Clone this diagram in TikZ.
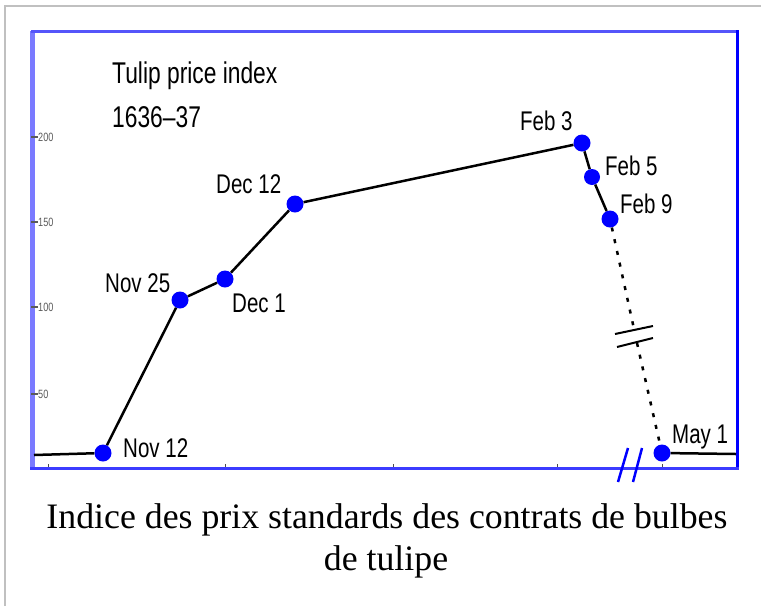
\documentclass[tikz,border=0pt]{standalone}
\usepackage{fontspec}
\setmainfont{Liberation Serif}
\newfontfamily\lab[FakeStretch=0.76]{Liberation Sans}
\definecolor{dotblue}{RGB}{0,0,255}
\definecolor{axleft}{RGB}{122,122,255}
\definecolor{axtop}{RGB}{85,85,250}
\definecolor{axbot}{RGB}{60,60,255}
\definecolor{framegray}{RGB}{192,192,192}
\definecolor{tickgray}{RGB}{90,90,90}
\begin{document}
\begin{tikzpicture}[x=1pt,y=-1pt,
  datapt/.style={circle,fill=dotblue,inner sep=0pt,minimum size=17pt},
  lbl/.style={inner sep=0pt,anchor=base west,font=\lab\fontsize{27}{30}\selectfont},
  ttl/.style={inner sep=0pt,anchor=base west,font=\lab\fontsize{30}{34}\selectfont},
  ytl/.style={inner sep=0pt,anchor=west,text=tickgray,font=\lab\fontsize{12}{13}\selectfont},
  curve/.style={draw=black,line width=2.5pt},
  dotcurve/.style={draw=black,line width=2.5pt,dash pattern=on 4pt off 8pt},
  brk/.style={draw=black,line width=2pt},
  axbrk/.style={draw=dotblue,line width=2.5pt},
  captext/.style={inner sep=0pt,anchor=base,font=\fontsize{35.8}{42}\selectfont}]
\useasboundingbox (0,0) rectangle (761,606);
% outer gray frame
\draw[framegray,line width=2.5pt] (5,606) -- (5,6) -- (761,6);
% axes frame
\draw[axleft,line width=5pt] (32.5,31) -- (32.5,470);
\draw[axtop,line width=3pt] (31,31.5) -- (738,31.5);
\draw[dotblue,line width=3pt] (737.5,30) -- (737.5,470);
\draw[axbot,line width=3.5pt] (30,468.5) -- (739,468.5);
% y ticks
\foreach \yy/\tl in {137/200,222/150,307/100,394/50}{
  \draw[tickgray,line width=1.2pt] (31,\yy) -- (38,\yy);
  \node[ytl] (yt\tl) at (38,\yy) {\tl};
}
% x ticks
\foreach \xx in {48,225,393,557,662}{
  \draw[black!70,line width=1pt] (\xx,466.5) -- (\xx,463.5);
}
% axis break
\draw[axbrk] (628,448) -- (618,482);
\draw[axbrk] (642,448) -- (633,482);
% data points
\node[datapt] (n12) at (103,453) {};
\node[datapt] (n25) at (180,300) {};
\node[datapt] (d1)  at (225,279) {};
\node[datapt] (d12) at (295,204) {};
\node[datapt] (f3)  at (582,143) {};
\node[datapt,minimum size=16pt] (f5)  at (592,177) {};
\node[datapt] (f9)  at (610,219) {};
\node[datapt] (m1)  at (662,453) {};
\coordinate (lstart) at (34,455);
\coordinate (rend) at (736,454);
\coordinate (b1) at (634,329);
\coordinate (b2) at (637,343);
% curves
\draw[curve] (lstart) -- (n12);
\draw[curve] (n12) -- (n25);
\draw[curve] (n25) -- (d1);
\draw[curve] (d1) -- (d12);
\draw[curve] (d12) -- (f3);
\draw[curve] (f3) -- (f5);
\draw[curve] (f5) -- (f9);
\draw[dotcurve] (f9) -- (b1);
\draw[dotcurve] (b2) -- (m1);
\draw[curve] (m1) -- (rend);
% break marks on dotted line
\draw[brk] (615,334) -- (653,326);
\draw[brk] (617,347) -- (653,338);
% labels
\node[ttl] (t1) at (112,83) {Tulip price index};
\node[ttl] (t2) at (112,127) {1636–37};
\node[lbl] (ln12) at (123,457) {Nov 12};
\node[lbl] (ln25) at (105,292) {Nov 25};
\node[lbl] (ld1)  at (232,312) {Dec 1};
\node[lbl] (ld12) at (216,193) {Dec 12};
\node[lbl] (lf3)  at (520,130) {Feb 3};
\node[lbl] (lf5)  at (605,175) {Feb 5};
\node[lbl] (lf9)  at (620,213) {Feb 9};
\node[lbl] (lm1)  at (672,443) {May 1};
% caption
\node[captext] (c1) at (387,528) {Indice des prix standards des contrats de bulbes};
\node[captext] (c2) at (386,570) {de tulipe};
\end{tikzpicture}
\end{document}
